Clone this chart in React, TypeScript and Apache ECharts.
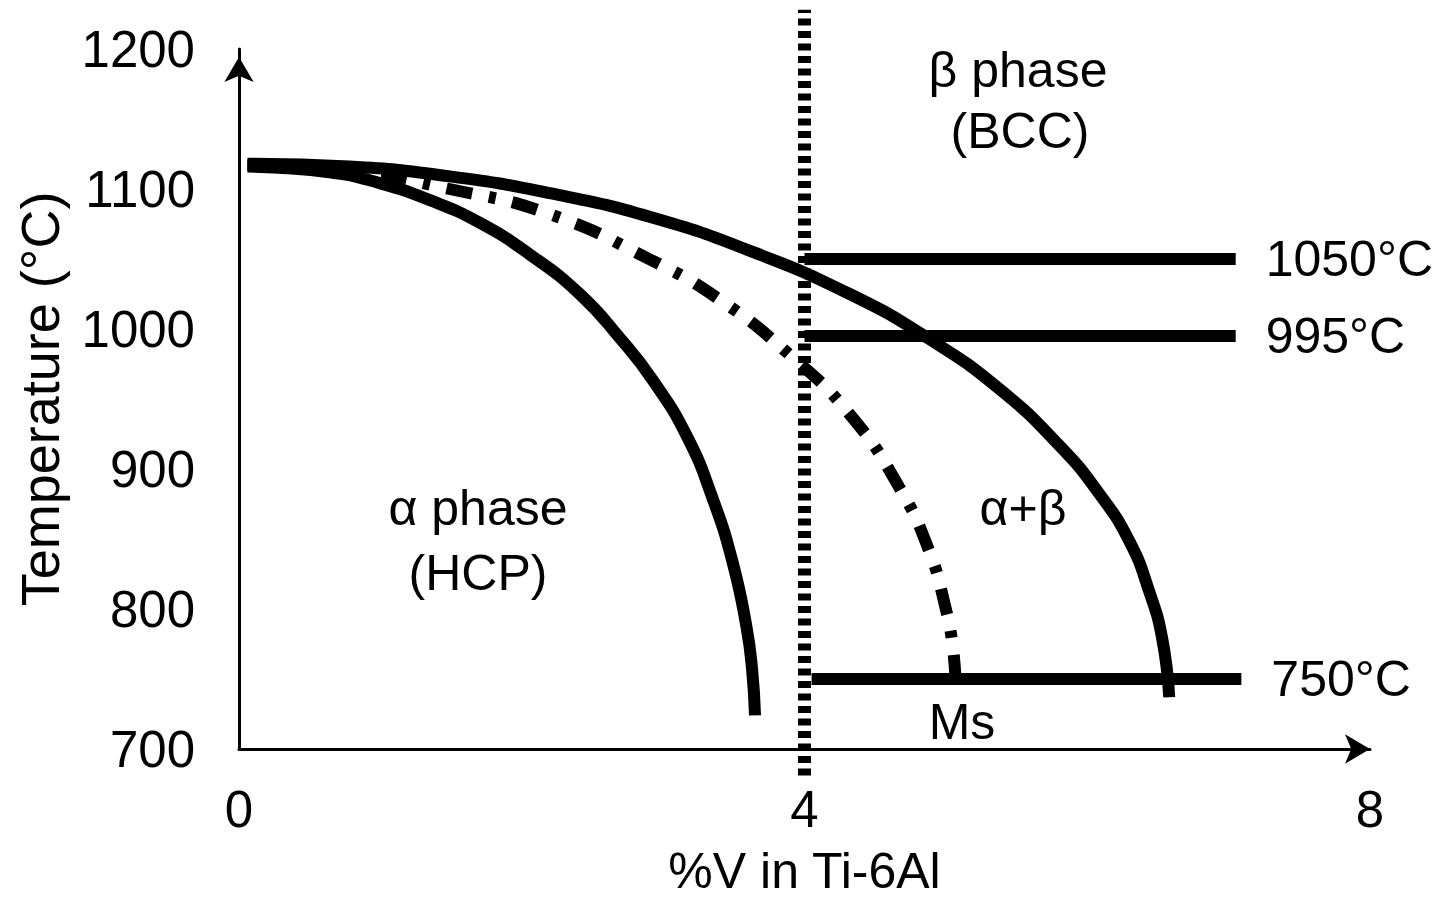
import React, { useEffect, useRef } from "react";
import * as echarts from "echarts";

// Ti-6Al-xV pseudo-binary section: composition (%V) vs temperature (°C)
const FONT = "'Liberation Sans', Arial, Helvetica, sans-serif";

const xTickValues = [0, 4, 8];
const yTickValues = [700, 800, 900, 1000, 1100, 1200];

// alpha transus (alpha / alpha+beta boundary)
const alphaTransus: [number, number][] = [
  [0.06, 1116], [0.64, 1112], [1.0, 1104], [1.35, 1092], [1.7, 1076],
  [2.06, 1053], [2.41, 1025], [2.69, 994], [2.93, 963], [3.17, 923],
  [3.35, 879], [3.49, 834], [3.59, 787], [3.63, 756], [3.65, 724],
];

// beta transus (alpha+beta / beta boundary)
const betaTransus: [number, number][] = [
  [0.06, 1118], [0.78, 1116], [1.49, 1109], [2.2, 1097], [2.91, 1080],
  [3.61, 1056], [4.32, 1025], [4.88, 993], [5.38, 957], [5.8, 917],
  [6.08, 883], [6.3, 848], [6.44, 812], [6.53, 779], [6.58, 737],
];

// martensite start temperature
const msCurve: [number, number][] = [
  [0.06, 1117], [0.78, 1113], [1.49, 1100], [2.2, 1082], [2.9, 1050],
  [3.4, 1021], [3.89, 982], [4.32, 939], [4.67, 887], [4.88, 842],
  [4.99, 804], [5.05, 772], [5.07, 742],
];

// alloy composition marker (Ti-6Al-4V)
const alloyV = 4;
const alloyMarkerSpan = [681, 1228];

// heat-treatment temperatures
const treatTemps = [1050, 995, 750];
const treatLabels = ["1050°C", "995°C", "750°C"];
const treatFrom = [4.0, 4.0, 4.05];
const treatTo = [7.05, 7.05, 7.09];

const BLACK = "#000";

function buildOption(): echarts.EChartsOption {
  const curveStyle = { color: BLACK, width: 12, cap: "butt" as const };

  const series: any[] = [
    {
      type: "line",
      name: "alpha transus",
      data: alphaTransus,
      smooth: 0.5,
      symbol: "none",
      lineStyle: curveStyle,
    },
    {
      type: "line",
      name: "beta transus",
      data: betaTransus,
      smooth: 0.5,
      symbol: "none",
      lineStyle: curveStyle,
    },
    {
      type: "line",
      name: "Ms",
      data: msCurve,
      smooth: 0.5,
      symbol: "none",
      lineStyle: { ...curveStyle, type: [26, 17, 7, 17] },
    },
    {
      type: "line",
      name: "Ti-6Al-4V",
      data: alloyMarkerSpan.map((t) => [alloyV, t]),
      symbol: "none",
      clip: false,
      lineStyle: { color: BLACK, width: 13, type: [7, 5.5], cap: "butt" },
    },
  ];

  treatTemps.forEach((t, i) => {
    series.push({
      type: "line",
      name: treatLabels[i],
      data: [
        [treatFrom[i], t],
        [treatTo[i], t],
      ],
      symbol: "none",
      lineStyle: { color: BLACK, width: 12, cap: "butt" },
      endLabel: {
        show: true,
        formatter: () => treatLabels[i],
        distance: 30,
        color: BLACK,
        fontSize: 50,
        fontFamily: FONT,
      },
    });
  });

  const textStyle = (text: string, x: number, y: number) => ({
    type: "text",
    x,
    y,
    style: {
      text,
      font: `50px ${FONT}`,
      fill: BLACK,
      textAlign: "center",
      textVerticalAlign: "middle",
    },
  });

  return {
    animation: false,
    backgroundColor: "#fff",
    grid: { left: 239, right: 85, top: 49, bottom: 156, outerBoundsMode: "none" } as any,
    xAxis: {
      type: "value",
      min: 0,
      max: 8,
      interval: 4,
      name: "%V in Ti-6Al",
      nameLocation: "middle",
      nameGap: 98,
      nameTextStyle: { fontSize: 50, lineHeight: 48, fontFamily: FONT, color: BLACK },
      axisLine: {
        show: true,
        symbol: ["none", "arrow"],
        symbolSize: [22, 25],
        lineStyle: { color: BLACK, width: 3 },
      },
      axisTick: { show: false },
      splitLine: { show: false },
      axisLabel: {
        fontSize: 51,
        fontFamily: FONT,
        color: BLACK,
        margin: 35,
        formatter: (v: number) => (xTickValues.includes(v) ? String(v) : ""),
      },
    },
    yAxis: {
      type: "value",
      min: 700,
      max: 1200,
      interval: 100,
      name: "Temperature (°C)",
      nameLocation: "middle",
      nameGap: 172,
      nameTextStyle: { fontSize: 54, fontFamily: FONT, color: BLACK },
      axisLine: {
        show: true,
        symbol: ["none", "arrow"],
        symbolSize: [22, 25],
        symbolOffset: [0, -8],
        lineStyle: { color: BLACK, width: 3 },
      },
      axisTick: { show: false },
      splitLine: { show: false },
      axisLabel: {
        fontSize: 51,
        fontFamily: FONT,
        color: BLACK,
        margin: 44,
        formatter: (v: number) => (yTickValues.includes(v) ? String(v) : ""),
      },
    },
    graphic: [
      textStyle("β phase", 1018, 70),
      textStyle("(BCC)", 1020, 131),
      textStyle("α phase", 478, 508),
      textStyle("(HCP)", 478, 573),
      textStyle("α+β", 1023, 508),
      textStyle("Ms", 962, 722),
    ] as any,
    series,
  };
}

export default function App() {
  const ref = useRef<HTMLDivElement>(null);

  useEffect(() => {
    document.body.style.margin = "0";
    if (!ref.current) return;
    const chart = echarts.init(ref.current, null, { renderer: "svg" });
    chart.setOption(buildOption());
    return () => chart.dispose();
  }, []);

  return <div ref={ref} style={{ width: 1455, height: 905, background: "#fff" }} />;
}
